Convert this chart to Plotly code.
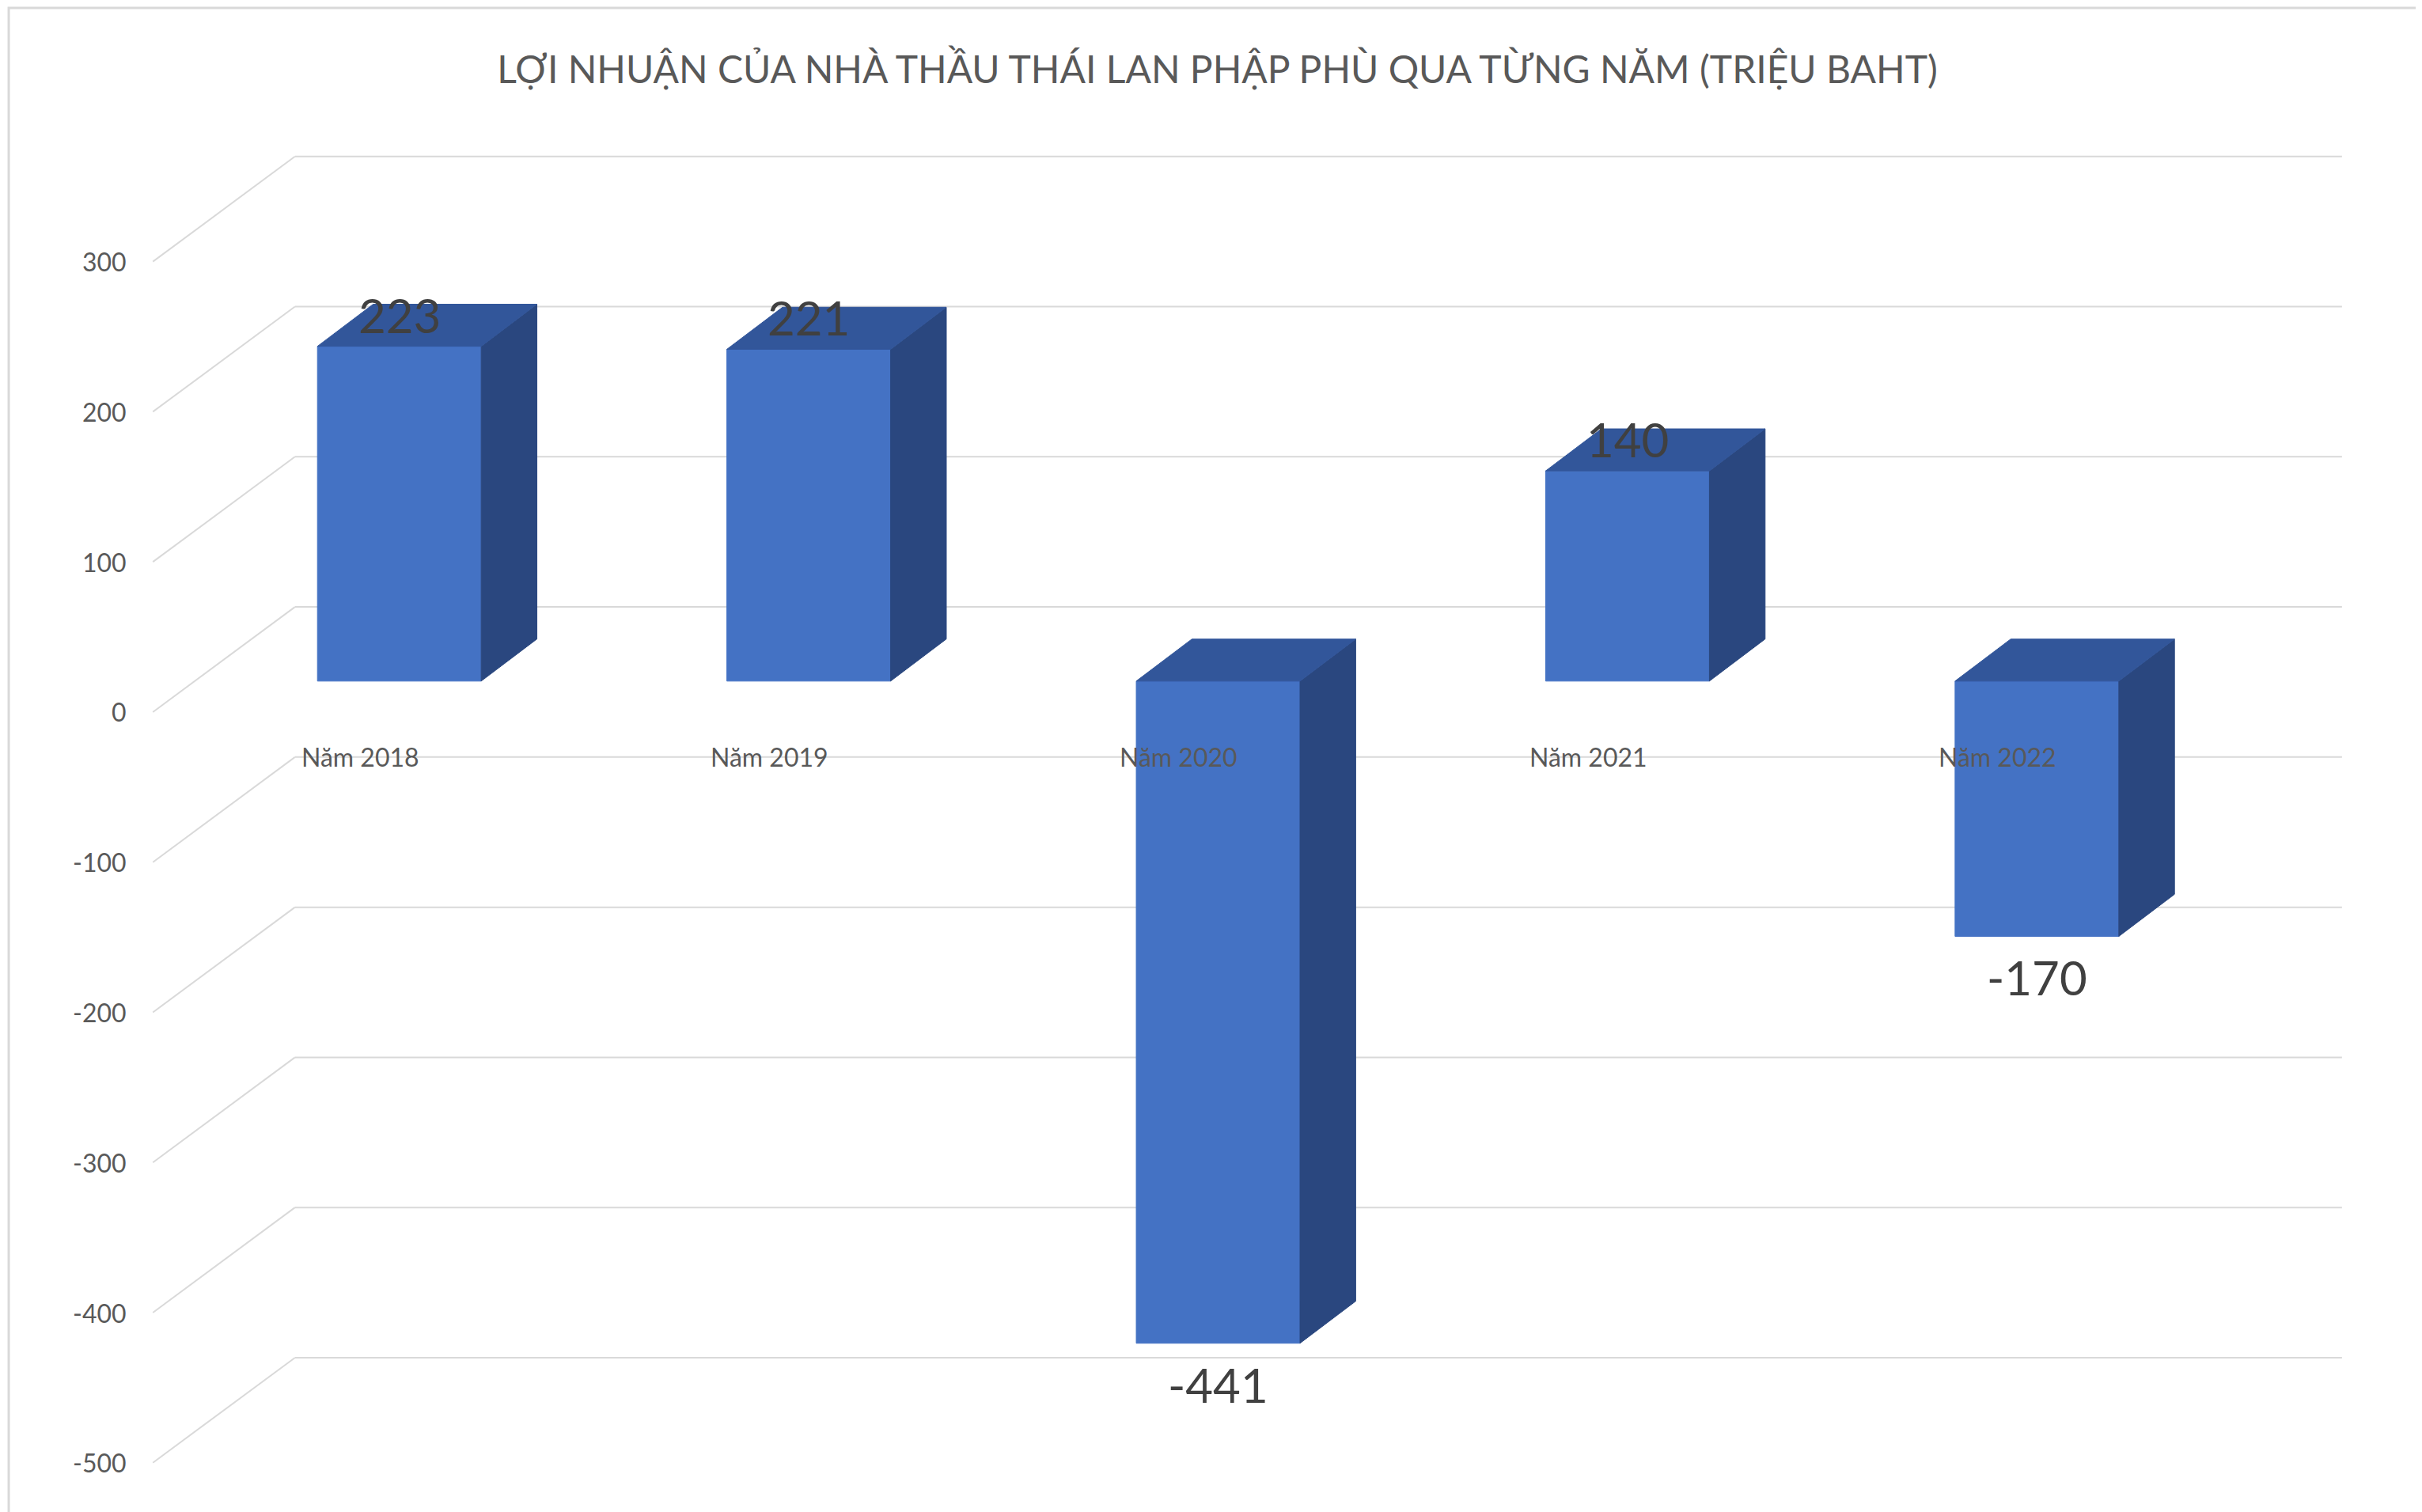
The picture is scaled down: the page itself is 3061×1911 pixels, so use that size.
import plotly.graph_objects as go

# data
years = ["Năm 2018", "Năm 2019", "Năm 2020", "Năm 2021", "Năm 2022"]
profits = [223, 221, -441, 140, -170]
tick_values = [300, 200, 100, 0, -100, -200, -300, -400, -500]
title = "LỢI NHUẬN CỦA NHÀ THẦU THÁI LAN PHẬP PHÙ QUA TỪNG NĂM (TRIỆU BAHT)"

# pseudo 3D geometry (x in category slots, y in value units)
wall_dx, wall_dy = 0.347, 70      # depth of back wall
front_dx, front_dy = 0.102, 20.6  # bar front plane
back_dx, back_dy = 0.238, 48.6    # bar back plane
bar_lo, bar_hi = 0.3, 0.7

c_front = "#4472C4"
c_side = "#2A477F"
c_top = "#32569A"
grid = "#D9D9D9"
txt = "#595959"

fig = go.Figure()

def poly(xs, ys, color):
    fig.add_trace(go.Scatter(x=xs + [xs[0]], y=ys + [ys[0]], fill="toself", fillcolor=color,
                             mode="lines", line=dict(color=color, width=1), hoverinfo="skip",
                             showlegend=False))

def line(xs, ys):
    fig.add_trace(go.Scatter(x=xs, y=ys, mode="lines", line=dict(color=grid, width=2),
                             hoverinfo="skip", showlegend=False))

n = len(years)
for v in tick_values:
    line([wall_dx, n + wall_dx], [v + wall_dy, v + wall_dy])
    line([0, wall_dx], [v, v + wall_dy])

for i, v in enumerate(profits):
    x0 = i + bar_lo + front_dx
    x1 = i + bar_hi + front_dx
    bx0 = i + bar_lo + back_dx
    bx1 = i + bar_hi + back_dx
    top = max(v, 0)
    bot = min(v, 0)
    # front face
    poly([x0, x1, x1, x0], [bot + front_dy, bot + front_dy, top + front_dy, top + front_dy], c_front)
    # right side face
    poly([x1, bx1, bx1, x1], [bot + front_dy, bot + back_dy, top + back_dy, top + front_dy], c_side)
    # top face
    poly([x0, x1, bx1, bx0], [top + front_dy, top + front_dy, top + back_dy, top + back_dy], c_top)

    cx = i + 0.5 + front_dx
    if v >= 0:
        fig.add_annotation(x=cx, y=v + front_dy, text=str(v), showarrow=False,
                           yanchor="bottom", yshift=2, font=dict(size=60, color="#404040"))
    else:
        fig.add_annotation(x=cx, y=v + front_dy, text=str(v), showarrow=False,
                           yanchor="top", yshift=-14, font=dict(size=60, color="#404040"))

for v in tick_values:
    fig.add_annotation(x=-0.06, y=v, text=str(v), showarrow=False, xanchor="right",
                       font=dict(size=32, color=txt))

for i, name in enumerate(years):
    fig.add_annotation(x=i + 0.506, y=-30, text=name, showarrow=False,
                       font=dict(size=32, color=txt))

fig.update_layout(
    width=3061, height=1911,
    margin=dict(l=0, r=0, t=0, b=0),
    paper_bgcolor="white", plot_bgcolor="white",
    font=dict(family="Lato, Carlito, Calibri, sans-serif"),
    title=dict(text=title, x=0.5, xanchor="center", y=0.958, yanchor="middle",
               font=dict(size=48, color=txt)),
    xaxis=dict(range=[-0.358, 5.558], visible=False, fixedrange=True),
    yaxis=dict(range=[-537, 470], visible=False, fixedrange=True),
    shapes=[dict(type="rect", xref="paper", yref="paper", x0=0.001, y0=0.001, x1=0.999, y1=0.999,
                 line=dict(color="#D9D9D9", width=3))],
)

fig.write_html("out.html")
